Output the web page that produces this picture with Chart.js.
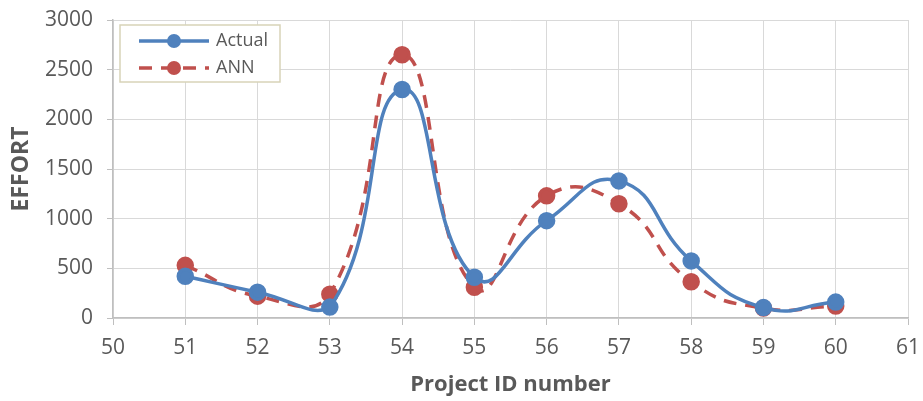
<!DOCTYPE html>
<html>
<head>
<meta charset="utf-8">
<script src="https://cdn.jsdelivr.net/npm/chart.js@4/dist/chart.umd.min.js"></script>
<style>
  html, body { margin: 0; padding: 0; background: #fff; }
  #wrap { width: 923px; height: 401px; position: relative; }
</style>
</head>
<body>
<div id="wrap"><canvas id="grafico" width="923" height="401"></canvas></div>
<script>
const projectIds = [51, 52, 53, 54, 55, 56, 57, 58, 59, 60];
const actualEffort = [420, 260, 110, 2300, 410, 980, 1380, 575, 105, 160];
const annEffort = [530, 220, 240, 2650, 310, 1230, 1150, 365, 100, 120];
const seriesNames = ["Actual", "ANN"];

const AZUL = "#4f81bd";
const ROJO = "#c0504d";
const GRIS_TEXTO = "#595959";
const FUENTE = "'Open Sans', sans-serif";

const puntos = (vals) => projectIds.map((x, i) => ({ x, y: vals[i] }));

// leyenda con recuadro dentro del área del gráfico, como en Excel
const leyendaInterna = {
  id: "leyendaInterna",
  afterDraw(chart) {
    const ctx = chart.ctx;
    const area = chart.chartArea;
    const x0 = area.left + 7, y0 = area.top + 5, w = 160, h = 57;
    ctx.save();
    ctx.fillStyle = "#fff";
    ctx.fillRect(x0, y0, w, h);
    ctx.strokeStyle = "#d8d3b8";
    ctx.lineWidth = 1.5;
    ctx.strokeRect(x0, y0, w, h);
    chart.data.datasets.forEach((ds, i) => {
      const cy = y0 + 16 + i * 27;
      ctx.strokeStyle = ds.borderColor;
      ctx.lineWidth = ds.borderWidth;
      ctx.setLineDash(ds.borderDash || []);
      ctx.beginPath();
      ctx.moveTo(x0 + 19, cy);
      ctx.lineTo(x0 + 89, cy);
      ctx.stroke();
      ctx.setLineDash([]);
      ctx.fillStyle = ds.pointBackgroundColor;
      ctx.beginPath();
      ctx.arc(x0 + 54, cy, ds.pointRadius, 0, Math.PI * 2);
      ctx.fill();
      ctx.fillStyle = GRIS_TEXTO;
      ctx.font = "18px " + FUENTE;
      ctx.textBaseline = "middle";
      ctx.fillText(ds.label, x0 + 96, cy);
    });
    ctx.restore();
  },
};

new Chart(document.getElementById("grafico"), {
  type: "line",
  data: {
    datasets: [
      {
        label: seriesNames[0],
        data: puntos(actualEffort),
        borderColor: AZUL,
        backgroundColor: AZUL,
        pointBackgroundColor: AZUL,
        pointBorderColor: AZUL,
        borderWidth: 3.5,
        pointRadius: 7,
        tension: 0.5,
      },
      {
        label: seriesNames[1],
        data: puntos(annEffort),
        borderColor: ROJO,
        backgroundColor: ROJO,
        pointBackgroundColor: ROJO,
        pointBorderColor: ROJO,
        borderWidth: 3.5,
        borderDash: [13, 9],
        pointRadius: 7,
        tension: 0.5,
      },
    ],
  },
  options: {
    responsive: false,
    animation: false,
    layout: { padding: { left: 0, right: 15, top: 20, bottom: 0 } },
    plugins: { legend: { display: false }, tooltip: { enabled: false } },
    scales: {
      x: {
        type: "linear",
        min: 50,
        max: 61,
        afterFit: (s) => { s.height = 83; s.paddingLeft = 0; s.paddingRight = 0; },
        ticks: {
          stepSize: 1, autoSkip: false, maxRotation: 0,
          color: GRIS_TEXTO, font: { family: FUENTE, size: 21 }, padding: 10,
          callback: (v) => String(v),
        },
        grid: { color: "#d9d9d9", tickColor: "#bfbfbf", tickLength: 7 },
        border: { color: "#bfbfbf", width: 1.5 },
        title: {
          display: true,
          text: "Project ID number",
          color: GRIS_TEXTO,
          font: { family: FUENTE, size: 22, weight: "bold" },
          padding: { top: 0, bottom: 3 },
        },
      },
      y: {
        min: 0,
        max: 3000,
        afterFit: (s) => { s.width = 113; s.paddingTop = 0; s.paddingBottom = 0; },
        ticks: {
          stepSize: 500, color: GRIS_TEXTO, font: { family: FUENTE, size: 21 }, padding: 14,
          callback: (v) => String(v),
        },
        grid: { color: "#d9d9d9", tickColor: "#bfbfbf", tickLength: 6 },
        border: { color: "#bfbfbf", width: 1.5 },
        title: {
          display: true,
          text: "EFFORT",
          color: GRIS_TEXTO,
          font: { family: FUENTE, size: 23, weight: "bold" },
          padding: { top: 8, bottom: 0 },
        },
      },
    },
  },
  plugins: [leyendaInterna],
});
</script>
</body>
</html>
